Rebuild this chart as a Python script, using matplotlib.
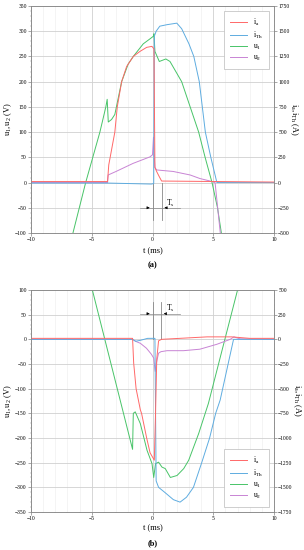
import matplotlib
matplotlib.use("Agg")
import matplotlib.pyplot as plt
from matplotlib.ticker import MultipleLocator

plt.rcParams['font.family'] = ['Liberation Serif', 'DejaVu Serif']
plt.rcParams['mathtext.fontset'] = 'custom'
plt.rcParams['mathtext.rm'] = 'Liberation Serif'
plt.rcParams['mathtext.it'] = 'Liberation Serif'

# ---- (a) turn-on ----
t_ia_a = [-10, -3.7, -3.6, -3.1, -2.9, -2.54, -2.13, -1.58, -1.03, -0.48, -0.05, 0.12, 0.2, 0.34, 0.55, 0.75, 10]
ia_a = [10, 10, 175, 500, 750, 1000, 1150, 1250, 1300, 1340, 1350, 1325, 150, 110, 60, 15, 5]

t_ith_a = [-10, -3.7, -0.1, 0.1, 0.15, 0.3, 0.6, 1.2, 2.0, 2.4, 3.0, 3.4, 3.85, 4.1, 4.35, 4.8, 5.3, 10]
ith_a = [-5, -5, -15, -10, 1450, 1500, 1550, 1565, 1580, 1525, 1375, 1250, 1000, 750, 500, 250, 0, 0]

t_u1_a = [-6.6, -5.5, -4.33, -3.84, -3.73, -3.64, -3.37, -3.1, -2.54, -2.0, -1.58, -0.76, -0.2, 0.07,
          0.12, 0.2, 0.56, 1.1, 1.44, 2.4, 3.1, 3.8, 4.33, 4.9, 5.35, 5.7]
u1_a = [-105, 0, 100, 150, 165, 120, 125, 135, 200, 235, 250, 275, 285, 290,
        295, 260, 240, 245, 240, 200, 150, 100, 50, 0, -50, -105]

t_u2_a = [-10, -3.7, -3.65, -3.0, -1.6, -0.2, 0.0, 0.08, 0.12, 0.2, 0.34, 1.7, 3.1, 3.9, 4.75, 5.15, 5.6]
u2_a = [0, 0, 15, 22, 38, 51, 55, 90, 60, 30, 25, 22, 15, 8, 3, 0, -105]

# ---- (b) turn-off ----
t_ia_b = [-10, -1.64, -1.55, -1.35, -1.0, -0.9, -0.48, -0.2, 0.15, 0.25, 0.35, 0.5, 0.75, 3.0, 4.5, 6.5, 8.0, 10]
ia_b = [10, 10, -240, -500, -715, -750, -1000, -1150, -1225, -750, -200, -15, 0, 15, 25, 25, 10, 10]

t_ith_b = [-10, -1.64, -1.4, -1.0, -0.4, 0.2, 0.3, 0.5, 1.0, 1.72, 2.27, 2.8, 3.37, 4.05, 4.7, 5.2, 5.57, 6.67, 10]
ith_b = [0, 0, -20, -10, 10, 10, -1435, -1500, -1550, -1625, -1650, -1600, -1500, -1250, -1000, -750, -615, 0, 0]

t_u1_b = [-4.95, -1.64, -1.58, -1.42, -1.0, -0.45, -0.04, 0.1, 0.25, 0.5, 0.78, 1.05, 1.47, 2.02,
          2.57, 2.98, 3.8, 4.6, 7.0]
u1_b = [100, -223, -150, -147, -171, -225, -252, -280, -252, -249, -259, -262, -280, -276,
        -262, -245, -191, -130, 100]

t_u2_b = [-10, -1.64, -1.3, -1.0, -0.5, -0.1, 0.1, 0.22, 0.3, 0.5, 0.7, 1.2, 2.55, 3.9, 5.3, 6.4, 6.7, 7.2, 10]
u2_b = [0, 0, -5, -8, -18, -30, -38, -65, -50, -28, -25, -23, -23, -20, -10, 0, 5, 1, 0]

c_ia = '#ff6868'
c_ith = '#5eace0'
c_u1 = '#48c468'
c_u2 = '#c884d4'

fig = plt.figure(figsize=(3.04, 5.5), dpi=100)

panels = [
    dict(pos=[31/304, 1-233/550, 243/304, 227/550], ylim=(-100, 350), loc='upper right',
         ia=(t_ia_a, ia_a), ith=(t_ith_a, ith_a), u1=(t_u1_a, u1_a), u2=(t_u2_a, u2_a),
         ts=(0.0, 0.75, 0, -75, -50, -42), xl=251, tag='(a)', tagy=265),
    dict(pos=[31/304, 1-512/550, 243/304, 222/550], ylim=(-350, 100), loc='lower right',
         ia=(t_ia_b, ia_b), ith=(t_ith_b, ith_b), u1=(t_u1_b, u1_b), u2=(t_u2_b, u2_b),
         ts=(0.0, 0.7, 0, 75, 52, 62), xl=528, tag='(b)', tagy=543),
]

for p in panels:
    ax = fig.add_axes(p['pos'])
    ax2 = ax.twinx()
    ax.set_xlim(-10, 10)
    ax.set_ylim(*p['ylim'])
    ax2.set_ylim(p['ylim'][0]*5, p['ylim'][1]*5)

    ax.xaxis.set_major_locator(MultipleLocator(5))
    ax.xaxis.set_minor_locator(MultipleLocator(1))
    ax.yaxis.set_major_locator(MultipleLocator(50))
    ax.yaxis.set_minor_locator(MultipleLocator(10))
    ax2.yaxis.set_major_locator(MultipleLocator(250))
    ax2.yaxis.set_minor_locator(MultipleLocator(50))
    ax.grid(True, which='major', color='#d0d0d0', lw=0.6)
    ax.grid(True, which='minor', axis='x', color='#ececec', lw=0.4)
    for a in (ax, ax2):
        a.tick_params(labelsize=4, length=2, width=0.4, pad=1, color='#666666')
        a.tick_params(which='minor', length=1, width=0.3, color='#888888')
        for s in a.spines.values():
            s.set_color('#888888')
            s.set_linewidth(0.5)

    l3, = ax.plot(*p['u1'], color=c_u1, lw=0.7, label=r'$\mathrm{u}_1$')
    l4, = ax.plot(*p['u2'], color=c_u2, lw=0.7, label=r'$\mathrm{u}_2$')
    l2, = ax2.plot(*p['ith'], color=c_ith, lw=0.7, label=r'$\mathrm{i}_\mathrm{Th}$')
    l1, = ax2.plot(*p['ia'], color=c_ia, lw=0.7, label=r'$\mathrm{i}_\mathrm{a}$')

    # T_s marker
    x0, x1, y0, y1, ya, yt = p['ts']
    ax.plot([x0, x0], [y0, y1], color='#888888', lw=0.6)
    ax.plot([x1, x1], [y0, y1], color='#888888', lw=0.6)
    ax.plot([-1.0, 2.3], [ya, ya], color='#888888', lw=0.5)
    ax.annotate('', xy=(x0, ya), xytext=(x0-0.6, ya),
                arrowprops=dict(arrowstyle='-|>', color='black', lw=0.4, mutation_scale=4))
    ax.annotate('', xy=(x1, ya), xytext=(x1+0.6, ya),
                arrowprops=dict(arrowstyle='-|>', color='black', lw=0.4, mutation_scale=4))
    ax.text(1.1, yt, r'$\mathrm{T}_\mathrm{s}$', fontsize=5.5, ha='left', va='center')

    leg = ax2.legend(handles=[l1, l2, l3, l4], loc=p['loc'], fontsize=5.5, fancybox=False,
                     edgecolor='#bbbbbb', framealpha=1, handlelength=2.2, borderpad=0.8,
                     labelspacing=0.25, borderaxespad=0.6)
    leg.get_frame().set_linewidth(0.5)

    ax.set_ylabel(r'$\mathrm{u}_1, \mathrm{u}_2\ (\mathrm{V})$', fontsize=6, labelpad=1)
    ax2.set_ylabel(r'$\mathrm{i}_\mathrm{a}, \mathrm{i}_\mathrm{Th}\ (\mathrm{A})$', fontsize=6,
                   rotation=270, labelpad=7)
    fig.text(0.5 * (31 + 274) / 304, 1 - p['xl']/550, 't (ms)', fontsize=6, ha='center', va='center')
    fig.text(0.5 * (31 + 274) / 304, 1 - p['tagy']/550, p['tag'], fontsize=6, ha='center', va='center',
             fontweight='bold')

fig.savefig('out.png', dpi=100)
